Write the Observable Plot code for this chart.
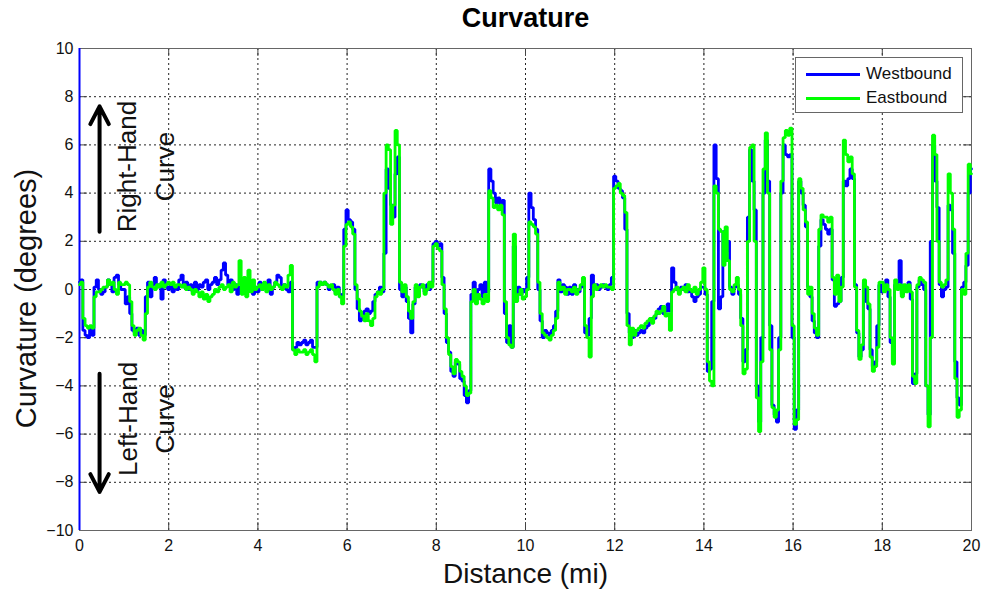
<!DOCTYPE html>
<html>
<head>
<meta charset="utf-8">
<script src="https://cdn.jsdelivr.net/npm/d3@7"></script>
<script src="https://cdn.jsdelivr.net/npm/@observablehq/plot@0.6"></script>
<style>
  html, body { margin: 0; padding: 0; background: #fff; }
  #wrap { position: relative; width: 982px; height: 590px; }
  #legend {
    position: absolute; left: 795px; top: 57px; width: 168px; height: 56px;
    border: 1px solid #666; background: #fff; box-sizing: border-box;
    font-family: "Liberation Sans", Arial, sans-serif; font-size: 17px; color: #111;
  }
  #legend .row { position: absolute; left: 10px; height: 20px; display: flex; align-items: center; }
  #legend .swatch { width: 54px; height: 0; border-top: 3px solid; margin-right: 6px; }
</style>
</head>
<body>
<div id="wrap">
  <div id="chart"></div>
  <div id="legend"></div>
</div>
<script>
// Axis ticks
const xTicks = [0, 2, 4, 6, 8, 10, 12, 14, 16, 18, 20];
const yTicks = [-10, -8, -6, -4, -2, 0, 2, 4, 6, 8, 10];

// Curvature (degrees) sampled every 0.05 mi, one row of 20 samples per mile
const westbound = [
  0.3, 0.4, -1.7, -1.9, -2.0, -1.6, -1.9, 0.1, 0.4, 0.0, -0.2, -0.1, 0.1, 0.4, 0.2, -0.1, 0.5, 0.6, 0.2, 0.0,
  0.0, -0.6, -0.3, -1.0, -1.7, -1.8, -1.6, -1.9, -1.7, -1.9, -0.3, 0.3, -0.3, 0.2, 0.5, 0.1, 0.2, -0.4, 0.4, 0.1,
  0.0, 0.2, -0.1, 0.1, 0.0, 0.4, 0.6, 0.1, 0.3, 0.0, 0.2, -0.1, 0.3, 0.0, 0.2, 0.1, 0.3, 0.4, 0.0, 0.2,
  0.3, 0.5, 0.2, 0.4, 0.8, 1.1, 0.6, 0.2, 0.4, 0.0, 0.2, -0.2, 0.1, 0.3, 0.0, -0.1, 0.2, 0.0, -0.2, 0.1,
  -0.1, 0.3, 0.0, 0.2, 0.1, 0.4, -0.2, 0.1, 0.3, 0.6, 0.5, 0.1, 0.2, 0.0, -0.1, 0.3, -2.5, -2.4, -2.2, -2.3,
  -2.2, -2.1, -2.3, -2.2, -2.1, -2.4, -2.4, 0.3, 0.3, 0.2, 0.3, 0.2, 0.0, 0.1, 0.2, -0.1, 0.1, -0.3, -0.2, 2.5,
  3.3, 2.9, 2.8, 2.5, 0.0, -0.8, -1.3, -1.2, -0.9, -0.8, -1.0, -0.9, -0.5, -0.2, -0.1, 0.1, -0.1, 1.5, 5.0, 4.2,
  3.5, 3.0, 4.8, 5.5, 0.0, -0.3, 0.1, -0.5, -1.2, -1.8, -0.6, 0.1, -0.1, 0.2, 0.1, -0.1, 0.2, 0.0, 0.3, 1.9,
  2.0, 1.8, 1.9, 0.5, -1.0, -2.2, -2.6, -3.4, -3.6, -3.0, -3.1, -3.7, -3.8, -4.4, -4.7, -4.2, -0.2, 0.3, -0.4, 0.0,
  0.2, -0.3, 0.3, -0.1, 5.0, 4.5, 4.0, 3.6, 3.8, 3.4, 3.7, -1.0, -2.2, -1.5, -2.4, 1.8, -0.4, 0.1, -0.2, 0.0,
  -0.1, 0.5, 4.0, 3.4, 2.9, 2.5, 0.0, -1.3, -2.0, -1.7, -1.8, -1.9, -1.7, -1.5, -0.9, 0.4, -0.1, 0.2, 0.1, -0.2,
  0.1, -0.2, 0.2, 0.0, -0.1, 0.1, 0.3, -1.8, -1.9, -1.2, 0.6, 0.1, 0.2, 0.0, 0.1, 0.2, 0.1, 0.0, 0.2, 0.5,
  4.7, 4.5, 4.2, 4.1, 3.8, 2.5, -1.0, -1.8, -2.0, -1.7, -1.9, -1.8, -1.7, -1.8, -1.6, -1.5, -1.3, -1.2, -1.2, -1.0,
  -0.8, -0.7, -1.0, -0.9, -0.6, -0.9, 0.9, 0.3, 0.0, -0.1, 0.1, 0.0, 0.2, -0.1, 0.0, -0.3, -0.5, -0.3, -0.2, 0.1,
  0.1, -0.2, -3.4, -3.3, -0.5, 6.0, 4.6, -0.8, -0.3, 2.4, 1.6, 2.0, 0.1, -0.2, 0.1, 0.2, -0.2, -1.2, -3.0, -2.5,
  3.0, 5.8, 4.5, 3.3, -4.0, -5.5, -2.0, 4.0, 6.2, 4.5, -1.5, -4.8, -5.2, -5.5, -2.0, 4.0, 6.0, 5.6, 5.5, 5.6,
  -2.0, -5.8, -5.0, 4.5, 4.0, 3.5, 2.6, 0.1, -0.3, -1.3, -1.8, -2.0, 1.8, 2.9, 2.7, 2.5, 2.3, 2.5, 0.4, -0.7,
  -0.6, -0.5, 0.5, 4.5, 4.3, 4.6, 5.0, 4.6, 0.2, -1.8, -2.8, -2.5, 0.3, -0.5, -0.8, -2.5, -3.2, -3.0, -1.5, 0.2,
  -0.1, 0.1, 0.4, -0.3, -2.2, -3.0, 0.2, 0.3, 1.2, -0.2, 0.1, 0.0, 0.3, -0.4, -3.9, -3.5, 0.1, 0.4, 0.2, 0.0,
  -4.0, -5.2, 2.0, 6.0, 4.5, 3.4, 0.2, -0.3, 0.0, 0.1, 3.5, 3.3, 1.5, -3.0, -4.5, -4.8, 0.1, 0.3, 1.0, 4.0,
  5.0
];

const eastbound = [
  0.2, 0.3, -1.2, -1.5, -1.6, -1.5, -1.6, -0.3, -0.1, -0.1, 0.0, 0.1, 0.1, 0.4, 0.2, 0.3, 0.0, -0.2, 0.3, 0.2,
  0.2, 0.3, 0.2, -0.5, -1.5, -1.9, -1.7, -1.6, -1.9, -2.1, -1.0, 0.1, 0.3, 0.1, 0.0, 0.2, 0.1, 0.3, 0.1, 0.2,
  0.3, 0.2, 0.3, 0.1, 0.2, 0.2, 0.1, 0.2, 0.0, 0.1, 0.0, -0.2, 0.0, -0.1, -0.3, -0.1, -0.4, -0.2, -0.5, -0.3,
  -0.2, 0.0, -0.1, 0.1, 0.2, 0.0, 0.1, 0.2, -0.1, 0.3, 0.1, 0.2, 1.2, -0.2, 0.5, -0.3, 0.8, -0.1, 0.4, 0.0,
  0.1, 0.2, 0.0, 0.3, -0.1, 0.2, 0.0, 0.1, 0.3, 0.2, 0.1, 0.0, 0.2, 0.1, 0.6, 1.0, -2.5, -2.7, -2.5, -2.6,
  -2.6, -2.5, -2.7, -2.6, -2.5, -2.7, -3.0, 0.1, 0.3, 0.2, 0.3, 0.2, 0.1, 0.2, 0.0, -0.2, 0.0, -0.3, -0.6, 1.8,
  2.7, 2.8, 2.6, 2.3, 0.2, -0.4, -0.9, -1.1, -1.3, -1.0, -1.3, -1.5, -1.2, -0.3, -0.1, -0.2, 0.0, 4.0, 6.0, 5.8,
  2.7, 3.5, 6.6, 6.0, 0.3, -0.1, 0.2, -0.3, -0.9, -1.2, -0.5, 0.2, -0.3, 0.1, 0.2, -0.2, 0.0, 0.3, 0.1, 1.8,
  1.9, 1.7, 1.6, 0.2, -0.8, -2.0, -2.7, -3.2, -3.5, -2.9, -3.0, -3.4, -3.6, -4.0, -4.4, -4.3, -0.5, 0.0, -0.6, -0.2,
  -0.4, -0.6, -0.2, -0.5, 4.1, 3.8, 3.4, 3.5, 3.3, 3.5, 3.1, -0.5, -2.0, -2.3, -2.4, 2.3, -0.5, -0.2, 0.0, -0.4,
  -0.3, 0.0, 2.8, 2.7, 2.6, 2.3, 0.3, -1.0, -1.8, -1.9, -2.0, -2.1, -1.9, -1.7, -1.2, 0.3, 0.0, 0.1, -0.2, 0.0,
  0.0, -0.1, 0.1, -0.2, 0.0, 0.2, 0.5, -1.5, -2.0, -2.8, -0.3, 0.2, 0.0, 0.1, 0.2, 0.1, 0.2, 0.1, 0.1, 0.0,
  4.2, 4.3, 4.4, 4.0, 3.9, 3.2, -1.5, -2.3, -1.6, -1.9, -1.7, -1.6, -1.5, -1.6, -1.4, -1.3, -1.2, -1.4, -1.1, -0.9,
  -1.0, -0.9, -0.7, -1.1, -1.0, -1.7, -0.1, 0.0, 0.1, -0.2, 0.0, 0.1, -0.1, 0.2, 0.0, -0.1, 0.1, -0.2, 0.0, 0.3,
  0.9, 0.0, -3.0, -3.8, -4.0, 4.3, 4.0, 2.5, 2.4, 1.0, 2.6, 1.2, 0.0, -0.1, 0.2, 0.5, 0.0, -1.5, -3.5, -3.3,
  2.0, 5.9, 6.0, 2.0, -4.5, -5.9, -3.0, 5.0, 6.5, 4.0, -2.5, -4.9, -5.3, -5.0, -2.5, 4.5, 6.3, 6.6, 6.4, 6.7,
  -1.5, -5.6, -5.4, 4.6, 4.2, 3.3, 2.8, -0.2, 0.1, -1.0, -1.6, -1.9, 2.5, 3.1, 3.0, 3.0, 2.8, 3.0, 0.5, -0.2,
  0.6, -0.5, 0.1, 6.2, 5.6, 5.3, 5.5, 4.8, 0.1, -1.7, -2.9, -2.3, 0.4, 0.1, -0.6, -2.8, -3.4, -3.2, -2.4, 0.3,
  0.3, -0.1, 0.2, 0.0, -2.0, -3.1, 0.4, 0.0, 0.2, -0.3, 0.2, -0.1, 0.2, -0.1, -3.6, -3.9, 0.2, 0.5, 0.4, 0.3,
  -4.0, -5.7, -2.0, 6.4, 5.6, 2.0, 0.3, 0.1, 0.2, 0.4, 4.8, 4.0, 2.5, -3.7, -5.3, -5.0, 0.0, -0.2, 1.5, 5.2,
  4.8
];

// Sample positions along the route (mi)
const step = 0.05;
const distance = westbound.map((_, i) => +(i * step).toFixed(2));

const series = [
  {name: "Westbound", color: "#0000ff", values: westbound},
  {name: "Eastbound", color: "#00ff00", values: eastbound}
];

const rows = series.flatMap(s => s.values.map((v, i) => ({series: s.name, distance: distance[i], curvature: v})));

// Direction annotations (data coordinates)
const arrows = [
  {x: 0.45, y1: 2.4, y2: 7.6},
  {x: 0.45, y1: -3.5, y2: -8.4}
];
const notes = [
  {x: 1.09, y: 5.1, text: "Right-Hand"},
  {x: 1.93, y: 5.1, text: "Curve"},
  {x: 1.10, y: -5.37, text: "Left-Hand"},
  {x: 1.93, y: -5.37, text: "Curve"}
];

const font = "'Liberation Sans', Arial, sans-serif";

const chart = Plot.plot({
  width: 982,
  height: 590,
  marginLeft: 79,
  marginRight: 11,
  marginTop: 48,
  marginBottom: 60,
  style: {fontFamily: font, fontSize: "16px", color: "#111", background: "#fff", overflow: "visible"},
  x: {domain: [0, 20], ticks: xTicks, label: null},
  y: {domain: [-10, 10], ticks: yTicks, label: null},
  marks: [
    Plot.gridX(xTicks, {stroke: "#222", strokeOpacity: 1, strokeDasharray: "2,3"}),
    Plot.gridY(yTicks, {stroke: "#222", strokeOpacity: 1, strokeDasharray: "2,3"}),
    // inward tick marks on all four sides
    Plot.ruleX(xTicks, {y1: -10, y2: -9.67, stroke: "#444"}),
    Plot.ruleX(xTicks, {y1: 10, y2: 9.67, stroke: "#444"}),
    Plot.ruleY(yTicks, {x1: 0, x2: 0.18, stroke: "#444"}),
    Plot.ruleY(yTicks, {x1: 20, x2: 19.82, stroke: "#444"}),
    Plot.frame({stroke: "#666"}),
    Plot.axisX(xTicks, {tickSize: 0, tickPadding: 9, fontSize: 16}),
    Plot.axisY(yTicks, {tickSize: 0, tickPadding: 6, fontSize: 16}),
    Plot.ruleX([0], {stroke: "#0000ff", strokeWidth: 2}),
    Plot.line(rows, {
      x: "distance", y: "curvature", z: "series",
      stroke: d => series.find(s => s.name === d.series).color,
      strokeWidth: 2.8, curve: "step", strokeLinejoin: "miter"
    }),
    Plot.arrow(arrows, {x: "x", y1: "y1", y2: "y2", stroke: "#000", strokeWidth: 4, headLength: 7.5, headAngle: 55}),
    Plot.text(notes, {x: "x", y: "y", text: "text", rotate: -90, fontSize: 26, fill: "#111", fontFamily: font}),
    Plot.text(["Curvature"], {frameAnchor: "top", dy: -30, lineAnchor: "middle", fontSize: 27, fontWeight: "bold", fill: "#000", fontFamily: font}),
    Plot.text(["Distance (mi)"], {frameAnchor: "bottom", dy: 44, lineAnchor: "middle", fontSize: 28, fill: "#111", fontFamily: font}),
    Plot.text(["Curvature (degrees)"], {frameAnchor: "left", dx: -53, dy: 9, rotate: -90, textAnchor: "middle", lineAnchor: "middle", fontSize: 29, fill: "#111", fontFamily: font})
  ]
});

document.getElementById("chart").append(chart);

// Legend
const legend = document.getElementById("legend");
series.forEach((s, i) => {
  const row = document.createElement("div");
  row.className = "row";
  row.style.top = (6 + i * 24) + "px";
  const sw = document.createElement("span");
  sw.className = "swatch";
  sw.style.borderTopColor = s.color;
  const label = document.createElement("span");
  label.textContent = s.name;
  row.append(sw, label);
  legend.append(row);
});
</script>
</body>
</html>
